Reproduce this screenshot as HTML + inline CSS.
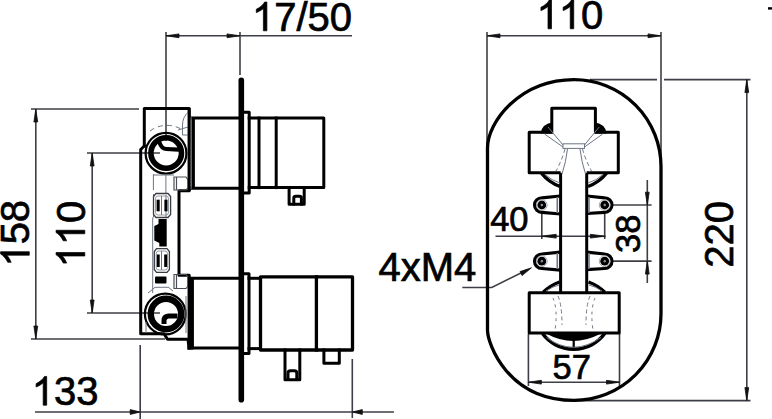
<!DOCTYPE html>
<html><head><meta charset="utf-8">
<style>
html,body{margin:0;padding:0;background:#fff;}
body{width:772px;height:419px;overflow:hidden;}
svg{display:block;}
text{font-family:"Liberation Sans",sans-serif;fill:#000;stroke:#000;stroke-width:0.7px;}
</style></head>
<body>
<svg width="772" height="419" viewBox="0 0 772 419">
<g fill="#000" class="lbl">
<g transform="translate(252.0,30.8)">
<path transform="translate(0.000,0) scale(0.01953,-0.01953)" stroke="#000" stroke-width="35.8" stroke-linejoin="round" d="M763 0 L583 0 L583 1147 Q518 1085 412 1023 Q306 961 221 930 L221 1104 Q372 1175 485 1276 Q598 1377 645 1472 L763 1472 Z"/>
<text x="22.240" y="0" font-size="40">7</text>
<text x="44.480" y="0" font-size="40">/</text>
<text x="55.600" y="0" font-size="40">5</text>
<text x="77.840" y="0" font-size="40">0</text>
</g>
<g transform="translate(31.8,405.2)">
<path transform="translate(0.000,0) scale(0.01953,-0.01953)" stroke="#000" stroke-width="35.8" stroke-linejoin="round" d="M763 0 L583 0 L583 1147 Q518 1085 412 1023 Q306 961 221 930 L221 1104 Q372 1175 485 1276 Q598 1377 645 1472 L763 1472 Z"/>
<text x="22.240" y="0" font-size="40">3</text>
<text x="44.480" y="0" font-size="40">3</text>
</g>
<g transform="translate(29.3,266.6) rotate(-90)">
<path transform="translate(0.000,0) scale(0.01953,-0.01953)" stroke="#000" stroke-width="35.8" stroke-linejoin="round" d="M763 0 L583 0 L583 1147 Q518 1085 412 1023 Q306 961 221 930 L221 1104 Q372 1175 485 1276 Q598 1377 645 1472 L763 1472 Z"/>
<text x="22.240" y="0" font-size="40">5</text>
<text x="44.480" y="0" font-size="40">8</text>
</g>
<g transform="translate(84.8,267.4) rotate(-90)">
<path transform="translate(0.000,0) scale(0.01953,-0.01953)" stroke="#000" stroke-width="35.8" stroke-linejoin="round" d="M763 0 L583 0 L583 1147 Q518 1085 412 1023 Q306 961 221 930 L221 1104 Q372 1175 485 1276 Q598 1377 645 1472 L763 1472 Z"/>
<path transform="translate(22.240,0) scale(0.01953,-0.01953)" stroke="#000" stroke-width="35.8" stroke-linejoin="round" d="M763 0 L583 0 L583 1147 Q518 1085 412 1023 Q306 961 221 930 L221 1104 Q372 1175 485 1276 Q598 1377 645 1472 L763 1472 Z"/>
<text x="44.480" y="0" font-size="40">0</text>
</g>
<g transform="translate(536.6,28.8)">
<path transform="translate(0.000,0) scale(0.01953,-0.01953)" stroke="#000" stroke-width="35.8" stroke-linejoin="round" d="M763 0 L583 0 L583 1147 Q518 1085 412 1023 Q306 961 221 930 L221 1104 Q372 1175 485 1276 Q598 1377 645 1472 L763 1472 Z"/>
<path transform="translate(22.240,0) scale(0.01953,-0.01953)" stroke="#000" stroke-width="35.8" stroke-linejoin="round" d="M763 0 L583 0 L583 1147 Q518 1085 412 1023 Q306 961 221 930 L221 1104 Q372 1175 485 1276 Q598 1377 645 1472 L763 1472 Z"/>
<text x="44.480" y="0" font-size="40">0</text>
</g>
<g transform="translate(733.3,267.7) rotate(-90)">
<text x="0.000" y="0" font-size="40">2</text>
<text x="22.240" y="0" font-size="40">2</text>
<text x="44.480" y="0" font-size="40">0</text>
</g>
<g transform="translate(490.2,230.8)">
<text x="0.000" y="0" font-size="34.5">4</text>
<text x="19.182" y="0" font-size="34.5">0</text>
</g>
<g transform="translate(639.5,253) rotate(-90)">
<text x="0.000" y="0" font-size="34.5">3</text>
<text x="19.182" y="0" font-size="34.5">8</text>
</g>
<g transform="translate(378.5,280.6)">
<text x="0.000" y="0" font-size="40">4</text>
<text x="22.240" y="0" font-size="40">x</text>
<text x="42.240" y="0" font-size="40">M</text>
<text x="75.560" y="0" font-size="40">4</text>
</g>
<g transform="translate(552.5,379.3)">
<text x="0.000" y="0" font-size="34.5">5</text>
<text x="19.182" y="0" font-size="34.5">7</text>
</g>
</g>

<!-- ===== LEFT VIEW ===== -->
<g id="dims-left" stroke="#3c3f45" stroke-width="1.6" fill="none">
  <!-- 17/50 -->
  <line x1="166" y1="35.8" x2="352" y2="35.8"/>
  <line x1="166" y1="32" x2="166" y2="141"/>
  <line x1="240" y1="32" x2="240" y2="75"/>
  <!-- 158 -->
  <line x1="31" y1="109" x2="139" y2="109"/>
  <line x1="31" y1="339" x2="165" y2="339"/>
  <line x1="35.8" y1="109" x2="35.8" y2="339"/>
  <!-- 110 -->
  <line x1="87" y1="153" x2="160" y2="153"/>
  <line x1="87" y1="313" x2="160" y2="313"/>
  <line x1="92.2" y1="153" x2="92.2" y2="313"/>
  <!-- 133 -->
  <line x1="35" y1="412" x2="394" y2="412"/>
  <line x1="140.2" y1="345" x2="140.2" y2="419"/>
  <line x1="352.3" y1="359" x2="352.3" y2="418"/>
</g>
<g id="arrows-left" fill="#111" stroke="#111" stroke-width="0.8" stroke-linejoin="round">
  <path d="M166.00 35.80 L179.00 37.70 L179.00 33.90 Z"/>
  <path d="M240.00 35.80 L227.00 33.90 L227.00 37.70 Z"/>
  <path d="M35.80 109.00 L33.90 122.00 L37.70 122.00 Z"/>
  <path d="M35.80 339.00 L37.70 326.00 L33.90 326.00 Z"/>
  <path d="M92.20 153.00 L90.30 166.00 L94.10 166.00 Z"/>
  <path d="M92.20 313.00 L94.10 300.00 L90.30 300.00 Z"/>
  <path d="M140.20 412.00 L130.20 409.60 L130.20 414.40 Z"/>
  <path d="M352.30 412.00 L362.30 414.40 L362.30 409.60 Z"/>
</g>
<!-- body -->
<g id="body-left" stroke="#000" stroke-width="3" fill="none" stroke-linejoin="round" stroke-linecap="square">
  <!-- box outline -->
  <path d="M144.3 146 L144.3 108.6 L189.2 108.6 L189.2 190.8 L179 190.8 L179 275.2 L189.2 275.2 L189.2 339"/>
  <path d="M144.3 146 L140.7 149.5 L140.7 333.7 L164 333.7 L167.5 339.2 L188 339.2 L189 348"/>
  <!-- top cylinder -->
  <path d="M189.5 118.1 L238.5 118.1 M193.3 118.1 L193.3 188.2 M189.5 188.2 L238.5 188.2"/>
  <!-- bottom cylinder -->
  <path d="M189.5 278.3 L238.5 278.3 M192.3 278.3 L192.3 348 M189 348 L238.5 348"/>
  <!-- flanges -->
  <path d="M244 112.2 L249.2 112.2 L249.2 193 L244 193"/>
  <path d="M244 273.7 L249 273.7 L249 353.6 L244 353.6"/>
  <!-- top handle -->
  <path d="M249.2 118.1 L323.8 118.1 L323.8 187.6 L249.2 187.6"/>
  <line x1="259" y1="118.1" x2="259" y2="187.6"/>
  <line x1="276.2" y1="118.1" x2="276.2" y2="187.6"/>
  <path d="M289.1 187.6 L289.1 204.2 L304.2 204.2 L304.2 187.6"/>
  <path d="M293.8 204 L293.8 198 Q293.8 196.3 296 196.3 L299.3 196.3 Q301.4 196.3 301.4 198 L301.4 204"/>
  <!-- bottom handle -->
  <path d="M249 278.3 L258 278.3"/>
  <path d="M249 348.6 L258 348.6"/>
  <path d="M260.5 276.8 L352.5 276.8 L352.5 350 L260.5 350 Z" stroke-width="3.3"/>
  <line x1="316.4" y1="276.8" x2="316.4" y2="350" stroke-width="3.3"/>
  <path d="M285 350 L285 379.8 L299.8 379.8 L299.8 350"/>
  <path d="M288 379.5 L288 373 Q288 370.8 290.5 370.8 L294.3 370.8 Q296.8 370.8 296.8 373 L296.8 379.5"/>
  <path d="M323.9 350 L323.9 363.2 L339.3 363.2 L339.3 350"/>
  <!-- rings -->
  <circle cx="166" cy="153.2" r="20.4" stroke-width="2.2"/>
  <circle cx="166.2" cy="153" r="15.3" stroke-width="5.6"/>
  <circle cx="165.3" cy="314" r="20.4" stroke-width="2.2"/>
  <circle cx="166" cy="314" r="15.2" stroke-width="6.4"/>
  <path d="M159.5 142.5 Q161.5 149 166.5 149 L178.5 149.6" stroke-width="4.2" stroke-linecap="round"/>
  <path d="M177.5 316 L168.5 316 Q164 316.5 164 320.5 L164 324" stroke-width="5" stroke-linecap="butt"/>
</g>
<!-- gray hidden details left -->
<g stroke="#6d7684" stroke-width="1" fill="none">
  <path d="M150 131 A28.5 28.5 0 0 1 181 129" stroke-dasharray="5 4"/>
  <path d="M188.5 112 Q182.5 117 182.5 125 L182.5 135 L188 135"/>
  <path d="M178 130 L188 127"/>
  <path d="M153.4 174 L153.4 190 M165.9 174 L165.9 194 M153.4 175 L174 175"/>
  <path stroke="#4a4f57" stroke-width="1.2" d="M174 177 L186 177 L188 180 L188 188 L186 190 L174 190 Z M176.5 177 L176.5 190"/>
  <path stroke="#4a4f57" stroke-width="1.2" d="M174 274.5 L186 274.5 L188 277 L188 286 L186 288.5 L174 288.5 Z M176.5 274.5 L176.5 288.5"/>
  <path d="M153.5 194 L153.5 217.5 M166 195 L166 217" />
  <path d="M161.5 196 L161.5 215 M161.5 251 L161.5 270"/>
  <path d="M148 293 L155 287.3 L168 287.3 M168 287 L173 291"/>
  <path d="M152.7 217.5 L152.7 293"/>
  <path d="M146 322 L146 333 M186 296 L186 333" />
</g>
<g fill="#000">
  <rect x="156.6" y="199.7" width="3.1" height="11.6"/>
  <rect x="164.4" y="199.7" width="3.1" height="11.6"/>
  <rect x="156.6" y="254.5" width="3.1" height="12.5"/>
  <rect x="164.2" y="254.5" width="3.1" height="12.5"/>
  <path d="M158.5 219 L166.7 219 L166.7 246.5 L159.3 246.5 L159.3 243 L154.3 240.5 L154.3 226 L158.5 224 Z"/>
  <rect x="155" y="276.6" width="11.5" height="7" rx="1"/>
</g>
<rect x="187.8" y="108" width="2.8" height="83" fill="#000"/><rect x="190.6" y="117" width="1.2" height="72" fill="#6a6e75"/><rect x="191.8" y="117" width="2.7" height="72" fill="#000"/>
<rect x="187.8" y="277" width="5.8" height="72.5" fill="#000"/>
<g stroke="#3a3d42" stroke-width="1.3" fill="none">
  <path d="M156 193.5 L168 193.5 L170.6 196.5 L170.6 214.5 L168 217.5 L156 217.5 L153.5 214.5 L153.5 196.5 Z"/>
  <path d="M156.5 248.6 L167 248.6 L169.4 251.5 L169.4 269.5 L167 272.3 L156.5 272.3 L154.3 269.5 L154.3 251.5 Z"/>
</g>
<g stroke="#8a9099" stroke-width="0.9" fill="none">
  <rect x="155.5" y="196" width="13" height="19" rx="2.5"/>
  <rect x="156.2" y="251" width="11.3" height="19" rx="2.5"/>
</g>
<!-- plate -->
<rect x="238.5" y="77.5" width="5.6" height="325" rx="2.8" fill="#000"/>
<!-- ===== RIGHT VIEW ===== -->
<g id="dims-right" stroke="#3c3f45" stroke-width="1.6" fill="none">
  <line x1="487" y1="35.8" x2="661" y2="35.8"/>
  <line x1="487" y1="32" x2="487" y2="170"/>
  <line x1="661" y1="32" x2="661" y2="170"/>
  <line x1="590" y1="79.6" x2="657" y2="79.6"/>
  <line x1="664" y1="79.6" x2="750.5" y2="79.6"/>
  <line x1="573" y1="400.6" x2="750.5" y2="400.6"/>
  <line x1="746.8" y1="79.6" x2="746.8" y2="400.6"/>
  <!-- 40 -->
  <line x1="495.5" y1="236.2" x2="605.3" y2="236.2"/>
  <line x1="541.8" y1="212" x2="541.8" y2="239"/>
  <line x1="604.7" y1="212" x2="604.7" y2="239"/>
  <!-- 38 -->
  <line x1="612" y1="205" x2="651.6" y2="205"/>
  <line x1="612" y1="261.1" x2="651.6" y2="261.1"/>
  <line x1="647.3" y1="180" x2="647.3" y2="283"/>
  <!-- 57 -->
  <line x1="528.4" y1="382.2" x2="619.5" y2="382.2"/>
  <line x1="528.4" y1="334" x2="528.4" y2="386"/>
  <line x1="619.5" y1="334" x2="619.5" y2="386"/>
  <!-- 4xM4 leader -->
  <path d="M462.3 287.5 L491.8 287.5 L528 269.5"/>
</g>
<g id="arrows-right" fill="#111" stroke="#111" stroke-width="0.8" stroke-linejoin="round">
  <path d="M487.00 35.80 L500.00 37.70 L500.00 33.90 Z"/>
  <path d="M661.00 35.80 L648.00 33.90 L648.00 37.70 Z"/>
  <path d="M746.80 79.60 L744.90 92.60 L748.70 92.60 Z"/>
  <path d="M746.80 400.60 L748.70 387.60 L744.90 387.60 Z"/>
  <path d="M541.20 236.20 L556.20 238.10 L556.20 234.30 Z"/>
  <path d="M605.30 236.20 L590.30 234.30 L590.30 238.10 Z"/>
  <path d="M647.30 205.20 L649.20 192.20 L645.40 192.20 Z"/>
  <path d="M647.30 261.10 L645.40 274.10 L649.20 274.10 Z"/>
  <path d="M528.40 382.20 L541.40 384.10 L541.40 380.30 Z"/>
  <path d="M619.50 382.20 L606.50 380.30 L606.50 384.10 Z"/>
  <path d="M531.5 267.8 L520 271.6 L522 275.6 Z"/>
</g>
<g id="body-right" stroke="#000" stroke-width="3" fill="none" stroke-linejoin="round">
  <path d="M574 79.6 A87 87 0 0 1 661 166.6 L661 313.4 A87 87 0 0 1 574 400.4 C508 400.4 487.5 344 487.5 330 L487.5 148 C487.5 122 520 79.6 574 79.6 Z" stroke-width="3.3"/>
  <!-- top cross -->
  <path d="M560.6 172.8 L529.2 172.8 L529.2 132.3 L551.8 132.3 L551.8 108.3 L595.4 108.3 L595.4 132.3 L618.3 132.3 L618.3 172.8 L586.7 172.8"/>
  <!-- shaft -->
  <line x1="560.6" y1="172.8" x2="560.6" y2="292.8"/>
  <line x1="586.7" y1="172.8" x2="586.7" y2="292.8"/>
  <!-- bottom bar -->
  <path d="M529.2 292.8 L619.2 292.8 L619.2 333 L529.2 333 Z"/>
  <!-- crescents top -->
  <path d="M541.5 173.3 A41.8 41.8 0 0 0 560 186.5" stroke-width="3.4"/>
  <path d="M606.5 173.3 A41.8 41.8 0 0 1 588 186.5" stroke-width="3.4"/>
  <!-- crescents bottom fitting -->
  <path d="M543.2 292.3 A44.2 44.2 0 0 1 559.5 282" stroke-width="3.4"/>
  <path d="M604.8 292.3 A44.2 44.2 0 0 0 588.5 282" stroke-width="3.4"/>
  <!-- bottom semicircle -->
  <path d="M542.5 333.5 A38.7 38.7 0 0 0 604.7 333.5" stroke-width="3.6"/>
  <!-- bosses -->
  <path d="M560.5 196.0 L541.8 197.8 A7.25 7.25 0 0 0 541.8 212.3 L560.5 214.0" stroke-width="3.2"/>
  <path d="M586.7 196.0 L604.7 197.8 A7.25 7.25 0 0 1 604.7 212.3 L586.7 213.5" stroke-width="3.2"/>
  <path d="M560.5 252.2 L541.8 254.0 A7.25 7.25 0 0 0 541.8 268.5 L560.5 270.2" stroke-width="3.2"/>
  <path d="M586.7 252.2 L604.7 254.0 A7.25 7.25 0 0 1 604.7 268.5 L586.7 269.7" stroke-width="3.2"/>
</g>
<g fill="#000">
  <circle cx="541.8" cy="205" r="4.4"/>
  <circle cx="604.7" cy="205" r="4.4"/>
  <circle cx="541.8" cy="261.2" r="4.4"/>
  <circle cx="604.7" cy="261.2" r="4.4"/>
  <!-- fillets -->
  <path d="M540.5 133.5 Q542 123.5 553 122.5 L553 133.5 Z"/>
  <path d="M606.7 133.5 Q605.2 123.5 594.2 122.5 L594.2 133.5 Z"/>
  <!-- bottom semicircle dark band -->
  <path d="M547 334 L600 334 Q573 348 547 334 Z"/>
  <rect x="572.6" y="340" width="2.2" height="9"/>
</g>
<g stroke="#9aa0a8" stroke-width="0.9" fill="none">
  <circle cx="541.8" cy="205" r="5.4"/>
  <circle cx="604.7" cy="205" r="5.4"/>
  <circle cx="541.8" cy="261.2" r="5.4"/>
  <circle cx="604.7" cy="261.2" r="5.4"/>
  <circle cx="541.8" cy="205" r="0.8" stroke="#ccc"/>
  <circle cx="604.7" cy="205" r="0.8" stroke="#ccc"/>
  <circle cx="541.8" cy="261.2" r="0.8" stroke="#ccc"/>
  <circle cx="604.7" cy="261.2" r="0.8" stroke="#ccc"/>
</g>
<g stroke="#6d7684" stroke-width="1" fill="none">
  <rect x="563" y="143.8" width="21.5" height="4.6"/>
  <path d="M548 127 L563 145 M544.5 134 L563 147"/>
  <path d="M599.2 127 L584.5 145 M602.7 134 L584.5 147"/>
  <path d="M565 149 Q562 160 556 171" stroke-dasharray="4 3"/>
  <path d="M582.5 149 Q585.5 160 591.5 171" stroke-dasharray="4 3"/>
  <path d="M567.5 149 Q566 162 562 174"/>
  <path d="M580 149 Q581.5 162 585.5 174"/>
  <path d="M545 174.5 A38 38 0 0 0 560 183"/>
  <path d="M603 174.5 A38 38 0 0 1 588 183"/>
  <path d="M546 291 A40 40 0 0 1 559 285"/>
  <path d="M602 291 A40 40 0 0 0 589 285"/>
  <path d="M558 296 Q562 305 562 325 M590 296 Q586 305 586 325" stroke-dasharray="4 3"/>
  <path d="M553 298 Q558 310 555 330 M595 298 Q590 310 593 330" stroke-dasharray="3 4"/>
  <path d="M546.5 337.5 Q573 357 601 337.5"/>
  <path d="M557.3 197 L557.3 213 M589 197 L589 213 M557.3 253 L557.3 269 M589 253 L589 269" stroke-width="1.6"/>
</g>

<rect x="768" y="7.2" width="4" height="2.4" fill="#000"/>

</svg>
</body></html>
